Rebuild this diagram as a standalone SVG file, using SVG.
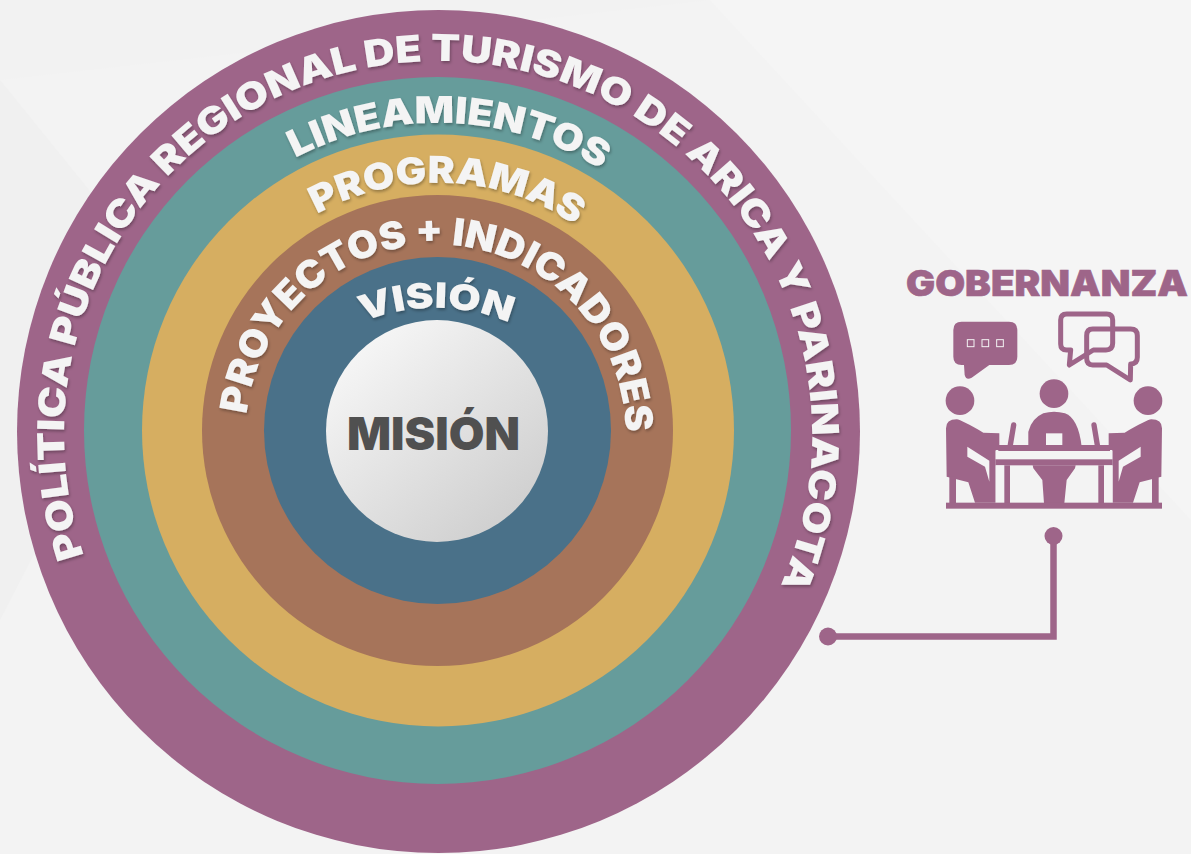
<svg xmlns="http://www.w3.org/2000/svg" width="1191" height="854" viewBox="0 0 1191 854">
<style>
.t{font-family:"Inter","Liberation Sans",sans-serif;font-weight:900;fill:#f4f4f4;filter:url(#ts)}
.p{fill:#9e6589}
</style>
<defs>
<filter id="ts" x="-10%" y="-10%" width="120%" height="120%"><feDropShadow dx="1" dy="2" stdDeviation="1.5" flood-color="#000" flood-opacity=".3"/></filter>
<linearGradient id="g" x1="0.15" y1="0.1" x2="0.85" y2="0.9"><stop offset="0" stop-color="#f6f6f6"/><stop offset="1" stop-color="#cfcfcf"/></linearGradient>
<path id="a1" d="M84 555.5A374 374 0 1 1 762 622"/>
<path id="a2" d="M295.3 158A308 308 0 0 1 674 233"/>
<path id="a3" d="M317 214A247 247 0 0 1 640 289"/>
<path id="a4" d="M246.7 414.4A190 190 0 1 1 614 500"/>
<path id="a5" d="M363 322A190 190 0 0 1 558 353"/>
</defs>
<rect width="1191" height="854" fill="#f3f3f3"/>
<polygon points="0,0 710,0 0,80" fill="#f2f2f2"/>
<polygon points="0,80 170,290 0,620" fill="#f0f0f0"/>
<polygon points="710,0 1191,0 1191,520" fill="#f5f5f5"/>
<g id="ring-politica"><circle cx="438.5" cy="431.5" r="421.5" fill="#9e6589"/></g>
<g id="ring-lineamientos"><circle cx="437.5" cy="430.5" r="353.5" fill="#669c9b"/></g>
<g id="ring-programas"><circle cx="438" cy="430.5" r="296" fill="#d6ae61"/></g>
<g id="ring-proyectos"><circle cx="437.5" cy="430.5" r="235.5" fill="#a6745a"/></g>
<g id="ring-vision"><circle cx="437.5" cy="430.5" r="173.5" fill="#4a7189"/></g>
<g id="mision"><circle cx="437" cy="431" r="111" fill="url(#g)"/>
<text x="433.5" y="450" text-anchor="middle" font-family="Inter,'Liberation Sans',sans-serif" font-weight="900" font-size="45" fill="#505050" textLength="173" lengthAdjust="spacingAndGlyphs">MISIÓN</text></g>
<g id="labels">
<text class="t" font-size="37"><textPath href="#a1" textLength="1452" lengthAdjust="spacingAndGlyphs">POLÍTICA PÚBLICA REGIONAL DE TURISMO DE ARICA Y PARINACOTA</textPath></text>
<text class="t" font-size="37"><textPath href="#a2" textLength="320" lengthAdjust="spacingAndGlyphs">LINEAMIENTOS</textPath></text>
<text class="t" font-size="37"><textPath href="#a3" textLength="272" lengthAdjust="spacingAndGlyphs">PROGRAMAS</textPath></text>
<text class="t" font-size="38"><textPath href="#a4" textLength="574" lengthAdjust="spacingAndGlyphs">PROYECTOS + INDICADORES</textPath></text>
<text class="t" font-size="35"><textPath href="#a5" textLength="150" lengthAdjust="spacingAndGlyphs">VISIÓN</textPath></text>
</g>
<g id="gobernanza">
<text x="1047" y="296" text-anchor="middle" font-family="Inter,'Liberation Sans',sans-serif" font-weight="900" font-size="35" fill="#9e6589" stroke="#9e6589" stroke-width=".6" textLength="282" lengthAdjust="spacingAndGlyphs">GOBERNANZA</text>
<g transform="translate(880 250) scale(.33333)">
<path class="p" d="M245 215H387Q412 215 412 240V320Q412 345 387 345H328L275 383Q258 392 254 375L252 345H245Q220 345 220 320V240Q220 215 245 215Z"/>
<g fill="none" stroke="#f4f4f4" stroke-width="3"><rect x="262" y="269" width="20" height="21"/><rect x="306" y="269" width="20" height="21"/><rect x="350" y="269" width="20" height="21"/></g>
<g fill="none" stroke="#9e6589" stroke-width="15" stroke-linejoin="round">
<path d="M560 192H680Q698 192 698 210V280Q698 300 678 300H640L568 345L572 300H560Q542 300 542 282V210Q542 192 560 192Z"/>
<path d="M638 237H752Q772 237 772 257V322Q772 342 752 342L751 390L680 345H638Q620 345 620 325V257Q620 237 638 237Z"/>
</g>
<circle class="p" cx="240" cy="452" r="43"/><circle class="p" cx="522" cy="431" r="43"/><circle class="p" cx="804" cy="452" r="43"/>
<path class="p" d="M445 590V545Q455 505 490 490Q522 480 555 490Q595 505 605 590Z"/>
<rect x="498" y="550" width="49" height="35" fill="#f4f4f4"/>
<path d="M401 525L391 585M642 525L652 585" stroke="#9e6589" stroke-width="16" stroke-linecap="round"/>
<g id="lp"><path class="p" d="M198 535Q198 508 230 508Q245 510 310 548L358 550V600H347V758H285L265 697L200 680Z"/>
<polygon points="262,590 328,632 328,695 315,650 262,620" fill="#f4f4f4"/>
<rect class="p" x="208" y="680" width="20" height="85"/></g>
<use href="#lp" transform="translate(1044 0) scale(-1 1)"/>
<rect class="p" x="355" y="585" width="335" height="20"/>
<rect x="347" y="603" width="350" height="25" fill="#f4f4f4"/>
<rect class="p" x="347" y="628" width="350" height="18"/>
<rect x="347" y="646" width="26" height="114" fill="#f4f4f4"/>
<rect x="672" y="646" width="26" height="114" fill="#f4f4f4"/>
<rect class="p" x="373" y="646" width="17" height="114"/>
<rect class="p" x="655" y="646" width="17" height="114"/>
<path class="p" d="M458 646H587L585 655L560 690L553 760H492L487 690L460 655Z"/>
<rect class="p" x="198" y="758" width="648" height="18"/>
</g></g>
<g id="connectors">
<path d="M1053.5 536V636.5H828" fill="none" stroke="#9e6589" stroke-width="6.5"/>
<circle cx="1053.5" cy="536" r="9" fill="#9e6589"/><circle cx="828" cy="636.5" r="9" fill="#9e6589"/>
</g>
</svg>
